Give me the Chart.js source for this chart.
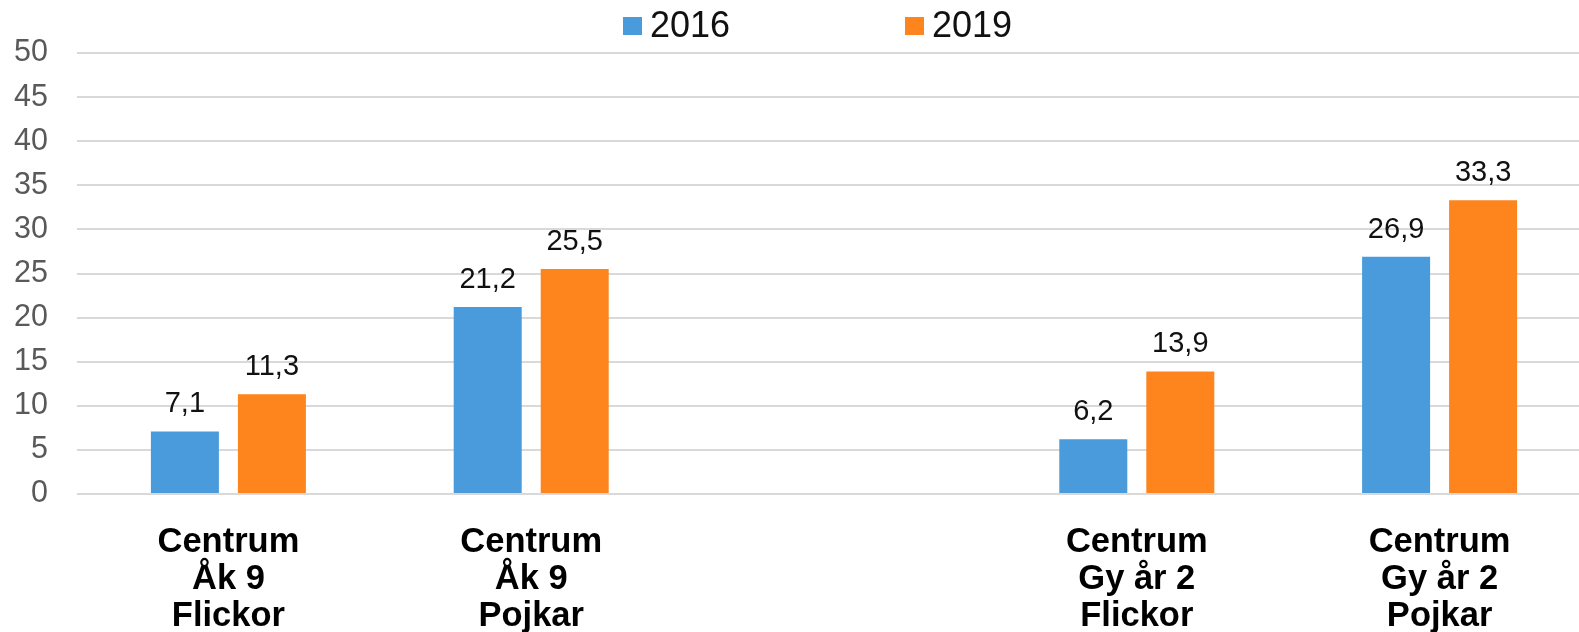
<!DOCTYPE html>
<html>
<head>
<meta charset="utf-8">
<script src="https://cdn.jsdelivr.net/npm/chart.js@4.4.0/dist/chart.umd.min.js"></script>
<style>
    body { margin: 0; background: #fff; overflow: hidden; }
    #wrap { position: relative; width: 1579px; height: 632px; overflow: hidden; }
    #legend { position: absolute; left: 0; top: 0; width: 1579px; height: 50px; font-family: "Liberation Sans", Arial, sans-serif; }
    .box { position: absolute; top: 17px; width: 19px; height: 18px; }
    .txt { position: absolute; top: 5px; font-size: 36px; line-height: 40px; color: #111; }
    #myChart { position: absolute; left: 0; top: 0; }
</style>
</head>
<body>
<div id="wrap">
    <!-- canvas is a little wider than the window: the plot runs past the right edge in the original -->
    <canvas id="myChart" width="1591" height="632"></canvas>
    <div id="legend"></div>
</div>
<script>
// data
var categories = [
    ['Centrum', 'Åk 9', 'Flickor'],
    ['Centrum', 'Åk 9', 'Pojkar'],
    '',
    ['Centrum', 'Gy år 2', 'Flickor'],
    ['Centrum', 'Gy år 2', 'Pojkar']
];
var seriesNames = ['2016', '2019'];
var values2016 = [7.1, 21.2, null, 6.2, 26.9];
var values2019 = [11.3, 25.5, null, 13.9, 33.3];
var yTicks = [0, 5, 10, 15, 20, 25, 30, 35, 40, 45, 50];

var colors = ['#4a9bdb', '#fe851e'];

// legend drawn as html above the canvas
var legend = document.getElementById('legend');
var legendX = [623, 905];
seriesNames.forEach(function(name, i) {
    var b = document.createElement('div');
    b.className = 'box';
    b.style.left = legendX[i] + 'px';
    b.style.background = colors[i];
    legend.appendChild(b);
    var t = document.createElement('div');
    t.className = 'txt';
    t.style.left = (legendX[i] + 27) + 'px';
    t.textContent = name;
    legend.appendChild(t);
});

// values above the bars
var barValues = {
    id: 'barValues',
    afterDatasetsDraw: function(chart) {
        var ctx = chart.ctx;
        ctx.save();
        ctx.font = '29px "Liberation Sans", Arial, sans-serif';
        ctx.fillStyle = '#111';
        ctx.textAlign = 'center';
        ctx.textBaseline = 'alphabetic';
        chart.data.datasets.forEach(function(ds, i) {
            chart.getDatasetMeta(i).data.forEach(function(bar, j) {
                var v = ds.data[j];
                if (v === null || v === undefined) return;
                ctx.fillText(String(v).replace('.', ','), bar.x, bar.y - 19);
            });
        });
        ctx.restore();
    }
};

var ctx = document.getElementById('myChart').getContext('2d');
new Chart(ctx, {
    type: 'bar',
    data: {
        labels: categories,
        datasets: [{
            label: seriesNames[0],
            data: values2016,
            backgroundColor: colors[0]
        }, {
            label: seriesNames[1],
            data: values2019,
            backgroundColor: colors[1]
        }]
    },
    options: {
        responsive: false,
        animation: false,
        layout: { padding: { top: 53, left: 0, right: 0, bottom: 0 } },
        categoryPercentage: 0.5747,
        barPercentage: 0.7816,
        scales: {
            x: {
                grid: { display: false },
                border: { display: false },
                ticks: {
                    color: '#000',
                    padding: 22,
                    maxRotation: 0,
                    autoSkip: false,
                    font: { family: '"Liberation Sans", Arial, sans-serif', size: 34.5, weight: 'bold', lineHeight: 1.07 }
                },
                afterFit: function(scale) { scale.height = 138; }
            },
            y: {
                min: 0,
                max: 50,
                afterBuildTicks: function(scale) {
                    scale.ticks = yTicks.map(function(v) { return { value: v }; });
                },
                grid: { color: '#d9d9d9', lineWidth: 2, drawTicks: false },
                border: { display: false },
                ticks: {
                    color: '#595959',
                    padding: 29,
                    font: { family: '"Liberation Sans", Arial, sans-serif', size: 30.5 }
                },
                afterFit: function(scale) { scale.width = 77; }
            }
        },
        plugins: {
            legend: { display: false },
            tooltip: { enabled: false }
        }
    },
    plugins: [barValues]
});
</script>
</body>
</html>
